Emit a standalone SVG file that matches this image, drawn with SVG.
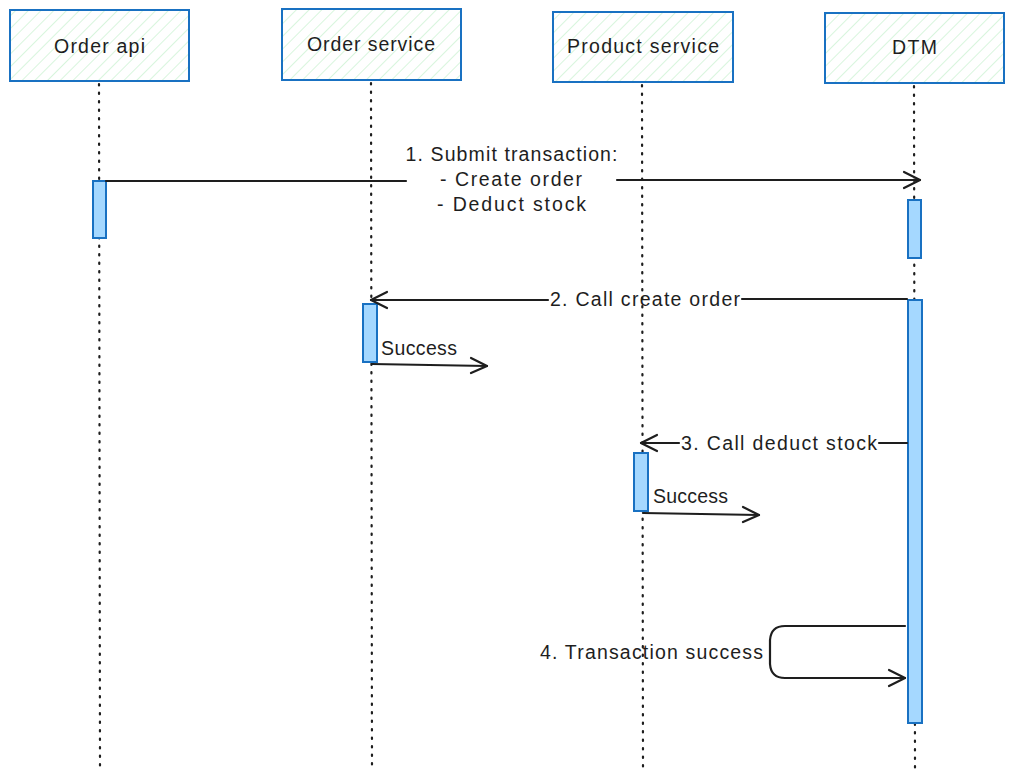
<svg xmlns="http://www.w3.org/2000/svg" width="1014" height="781" viewBox="0 0 1014 781">
<defs>
<pattern id="hatch" patternUnits="userSpaceOnUse" width="9" height="9" patternTransform="rotate(45)">
<line x1="0" y1="0" x2="0" y2="9" stroke="#c3efcb" stroke-width="1.3"/>
</pattern>
<style>
.box{fill:url(#hatch);stroke:#1971c2;stroke-width:2}
.lbl{font-family:"Liberation Sans","DejaVu Sans",sans-serif;font-size:19.5px;fill:#1e1e1e}
.life{stroke:#1e1e1e;stroke-width:2.2;stroke-dasharray:1.5 7;stroke-linecap:round;fill:none}
.act{fill:#a5d8ff;stroke:#1971c2;stroke-width:2}
.ar{stroke:#1e1e1e;stroke-width:2.2;fill:none;stroke-linecap:round;stroke-linejoin:round}
</style>
</defs>
<rect width="1014" height="781" fill="#ffffff"/>

<g id="lifelines">
<line class="life" x1="99" y1="84" x2="100" y2="770"/>
<line class="life" x1="371" y1="83" x2="372" y2="770"/>
<line class="life" x1="642" y1="85" x2="643" y2="770"/>
<line class="life" x1="914" y1="86" x2="915" y2="770"/>
</g>

<g id="order-api">
<rect class="box" x="10" y="10" width="179" height="71"/>
<text class="lbl" x="99.5" y="53" text-anchor="middle" textLength="91">Order api</text>
</g>
<g id="order-service">
<rect class="box" x="282" y="9" width="179" height="71"/>
<text class="lbl" x="371" y="51" text-anchor="middle" textLength="128">Order service</text>
</g>
<g id="product-service">
<rect class="box" x="553" y="12" width="180" height="70"/>
<text class="lbl" x="643" y="53" text-anchor="middle" textLength="152">Product service</text>
</g>
<g id="dtm">
<rect class="box" x="825" y="13" width="179" height="70"/>
<text class="lbl" x="914.5" y="54" text-anchor="middle" textLength="45">DTM</text>
</g>

<g id="activations">
<rect class="act" x="93" y="181" width="13" height="57"/>
<rect class="act" x="908" y="200" width="13" height="58"/>
<rect class="act" x="363" y="304" width="14" height="58"/>
<rect class="act" x="908" y="300" width="14" height="423"/>
<rect class="act" x="634" y="453" width="14" height="58"/>
</g>

<g id="connectors">
<path class="ar" d="M106 181 L406 181"/>
<path class="ar" d="M617 180 L920 180"/>
<path class="ar" d="M904 172 L920 180 L904 188"/>
<path class="ar" d="M907 299 L742 299"/>
<path class="ar" d="M548 300 L371 300"/>
<path class="ar" d="M387 292 L371 300 L387 308"/>
<path class="ar" d="M372 364 L487 366"/>
<path class="ar" d="M471 358 L487 366 L471 373"/>
<path class="ar" d="M907 443 L879 443"/>
<path class="ar" d="M679 443 L641 443"/>
<path class="ar" d="M657 435 L641 443 L657 451"/>
<path class="ar" d="M643 513 L759 515"/>
<path class="ar" d="M743 507 L759 515 L743 522"/>
<path class="ar" d="M905 626 L785 626 Q771 626 770 640 L770 664 Q771 678 785 678 L905 678"/>
<path class="ar" d="M889 670 L905 678 L889 686"/>
</g>

<g id="labels">
<text class="lbl" x="511.5" y="161" text-anchor="middle" textLength="212">1. Submit transaction:</text>
<text class="lbl" x="511" y="186" text-anchor="middle" textLength="142">- Create order</text>
<text class="lbl" x="511.5" y="211" text-anchor="middle" textLength="149">- Deduct stock</text>
<text class="lbl" x="645" y="306" text-anchor="middle" textLength="190">2. Call create order</text>
<text class="lbl" x="419" y="355" text-anchor="middle" textLength="76">Success</text>
<text class="lbl" x="779" y="450" text-anchor="middle" textLength="196">3. Call deduct stock</text>
<text class="lbl" x="690.5" y="503" text-anchor="middle" textLength="75">Success</text>
<text class="lbl" x="651.5" y="659" text-anchor="middle" textLength="223">4. Transaction success</text>
</g>
</svg>
